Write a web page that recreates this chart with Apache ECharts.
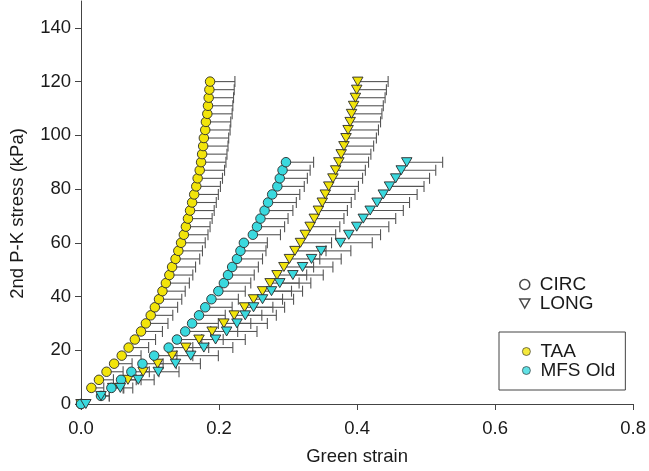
<!DOCTYPE html>
<html>
<head>
<meta charset="utf-8">
<script src="https://cdn.jsdelivr.net/npm/echarts@6/dist/echarts.min.js"></script>
<style>
html,body{margin:0;padding:0;background:#fff;}
#chart{width:649px;height:471px;}
</style>
</head>
<body>
<div id="chart"></div>
<script>
// Tick labels
const xTicks = [0, 0.2, 0.4, 0.6, 0.8];
const xTickLabels = ['0.0', '0.2', '0.4', '0.6', '0.8'];
const yTicks = [0, 20, 40, 60, 80, 100, 120, 140];

// TAA, circumferential (circles)
const taaCircStress = [0, 6, 9, 12, 15, 18, 21, 24, 27, 30, 33, 36, 39, 42, 45, 48, 51, 54, 57, 60, 63, 66, 69, 72, 75, 78, 81, 84, 87, 90, 93, 96, 99, 102, 105, 108, 111, 114, 117, 120];
const taaCircStrain = [0, 0.015, 0.026, 0.037, 0.048, 0.059, 0.069, 0.078, 0.087, 0.094, 0.101, 0.107, 0.113, 0.118, 0.123, 0.128, 0.132, 0.137, 0.141, 0.145, 0.149, 0.152, 0.155, 0.158, 0.161, 0.164, 0.167, 0.169, 0.172, 0.174, 0.1755, 0.177, 0.178, 0.180, 0.181, 0.183, 0.184, 0.185, 0.186, 0.187];
const taaCircErr = [0, 0.018, 0.021, 0.024, 0.026, 0.028, 0.029, 0.030, 0.031, 0.032, 0.032, 0.033, 0.033, 0.033, 0.034, 0.034, 0.034, 0.035, 0.035, 0.035, 0.035, 0.035, 0.035, 0.035, 0.035, 0.035, 0.035, 0.036, 0.036, 0.036, 0.036, 0.036, 0.036, 0.036, 0.036, 0.036, 0.036, 0.036, 0.036, 0.036];

// TAA, longitudinal (triangles)
const taaLongStress = [0, 6, 9, 12, 15, 18, 21, 24, 27, 30, 33, 36, 39, 42, 45, 48, 51, 54, 57, 60, 63, 66, 69, 72, 75, 78, 81, 84, 87, 90, 93, 96, 99, 102, 105, 108, 111, 114, 117, 120];
const taaLongStrain = [0, 0.046, 0.068, 0.090, 0.111, 0.132, 0.152, 0.171, 0.190, 0.207, 0.222, 0.237, 0.250, 0.263, 0.274, 0.284, 0.294, 0.302, 0.310, 0.318, 0.325, 0.332, 0.338, 0.344, 0.3496, 0.354, 0.359, 0.365, 0.369, 0.3736, 0.377, 0.381, 0.384, 0.387, 0.390, 0.392, 0.395, 0.3976, 0.3995, 0.401];
const taaLongErr = [0, 0.015, 0.019, 0.023, 0.027, 0.030, 0.033, 0.035, 0.037, 0.039, 0.040, 0.041, 0.042, 0.042, 0.042, 0.043, 0.043, 0.044, 0.045, 0.045, 0.044, 0.043, 0.043, 0.042, 0.042, 0.043, 0.043, 0.043, 0.043, 0.043, 0.043, 0.043, 0.044, 0.044, 0.044, 0.044, 0.043, 0.043, 0.043, 0.044];

// MFS Old, circumferential (circles)
const mfsCircStress = [0, 3, 6, 9, 12, 15, 18, 21, 24, 27, 30, 33, 36, 39, 42, 45, 48, 51, 54, 57, 60, 63, 66, 69, 72, 75, 78, 81, 84, 87, 90];
const mfsCircStrain = [0, 0.029, 0.044, 0.058, 0.073, 0.089, 0.106, 0.127, 0.139, 0.151, 0.161, 0.171, 0.180, 0.189, 0.199, 0.207, 0.213, 0.219, 0.226, 0.231, 0.236, 0.249, 0.255, 0.260, 0.266, 0.271, 0.277, 0.2845, 0.288, 0.292, 0.297];
const mfsCircErr = [0, 0.012, 0.018, 0.022, 0.026, 0.030, 0.033, 0.035, 0.036, 0.037, 0.038, 0.038, 0.039, 0.039, 0.039, 0.039, 0.038, 0.038, 0.037, 0.037, 0.034, 0.040, 0.040, 0.040, 0.041, 0.041, 0.040, 0.039, 0.040, 0.040, 0.040];

// MFS Old, longitudinal (triangles)
const mfsLongStress = [0, 3, 6, 9, 12, 15, 18, 21, 24, 27, 30, 33, 36, 39, 42, 45, 48, 51, 54, 57, 60, 63, 66, 69, 72, 75, 78, 81, 84, 87, 90];
const mfsLongStrain = [0.007, 0.029, 0.057, 0.083, 0.112, 0.137, 0.159, 0.178, 0.195, 0.211, 0.226, 0.238, 0.250, 0.263, 0.276, 0.288, 0.307, 0.321, 0.334, 0.348, 0.376, 0.388, 0.3995, 0.409, 0.419, 0.429, 0.438, 0.447, 0.456, 0.464, 0.472];
const mfsLongErr = [0, 0.012, 0.018, 0.023, 0.030, 0.036, 0.040, 0.042, 0.043, 0.044, 0.044, 0.045, 0.045, 0.045, 0.045, 0.045, 0.044, 0.044, 0.043, 0.043, 0.046, 0.046, 0.0465, 0.047, 0.048, 0.047, 0.049, 0.050, 0.049, 0.050, 0.052];

const YELLOW = '#f2e40a';
const CYAN = '#3ad9de';
const FONT = '"Liberation Sans", Arial, Helvetica, sans-serif';
const TRI = 'path://M0,0L10,0L5,9Z';

function pts(strain, stress) { return strain.map((s, i) => [s, stress[i]]); }
function errs(strain, stress, err) { return strain.map((s, i) => [s, stress[i], err[i]]); }

function errRender(params, api) {
  const x = api.value(0), y = api.value(1), e = api.value(2);
  if (!e) return null;
  const p0 = api.coord([x, y]);
  const p1 = api.coord([x + e, y]);
  const st = { stroke: '#555555', lineWidth: 1.1 };
  return {
    type: 'group',
    children: [
      { type: 'line', shape: { x1: p0[0], y1: p0[1], x2: p1[0], y2: p1[1] }, style: st },
      { type: 'line', shape: { x1: p1[0], y1: p1[1] - 5.5, x2: p1[0], y2: p1[1] + 5.5 }, style: st }
    ]
  };
}

function errSeries(name, strain, stress, err) {
  return {
    name: name, type: 'custom', renderItem: errRender, silent: true, z: 1,
    encode: { x: 0, y: 1 }, data: errs(strain, stress, err)
  };
}
function markSeries(name, strain, stress, color, tri) {
  return {
    name: name, type: 'scatter', z: 3,
    symbol: tri ? TRI : 'circle',
    symbolSize: tri ? [10.5, 9] : 9.5,
    itemStyle: { color: color, borderColor: '#2a2a2a', borderWidth: 0.9, opacity: 1 },
    data: pts(strain, stress)
  };
}

const chart = echarts.init(document.getElementById('chart'), null, { renderer: 'canvas' });
chart.setOption({
  animation: false,
  backgroundColor: '#ffffff',
  textStyle: { fontFamily: FONT },
  grid: { left: 79, right: 13, top: 1, bottom: 67, containLabel: false },
  xAxis: {
    type: 'value', min: 0, max: 0.8, interval: 0.2,
    name: 'Green strain', nameLocation: 'middle', nameGap: 43,
    nameTextStyle: { fontSize: 18.5, color: '#1a1a1a', fontFamily: FONT },
    axisLine: { show: true, onZero: false, lineStyle: { color: '#444', width: 1 } },
    axisTick: { show: true, length: 6, inside: false, customValues: xTicks, lineStyle: { color: '#444' } },
    axisLabel: {
      customValues: xTicks, margin: 15, fontSize: 18.5, color: '#1a1a1a', fontFamily: FONT,
      formatter: function (v) { const i = xTicks.findIndex(t => Math.abs(t - v) < 1e-9); return i >= 0 ? xTickLabels[i] : ''; }
    },
    splitLine: { show: false }
  },
  yAxis: {
    type: 'value', min: 0, max: 150,
    name: '2nd P-K stress (kPa)', nameLocation: 'middle', nameGap: 54,
    nameTextStyle: { fontSize: 18.5, color: '#1a1a1a', fontFamily: FONT, padding: [0, 22, 0, 0] },
    axisLine: { show: true, onZero: false, lineStyle: { color: '#444', width: 1 } },
    axisTick: { show: true, length: 6, inside: false, customValues: yTicks, lineStyle: { color: '#444' } },
    axisLabel: { customValues: yTicks, margin: 10, fontSize: 18.5, color: '#1a1a1a', fontFamily: FONT },
    splitLine: { show: false }
  },
  legend: [
    {
      orient: 'vertical', left: 519, top: 275, itemWidth: 10, itemHeight: 10, itemGap: 0,
      selectedMode: false, padding: 0,
      textStyle: { fontSize: 19, lineHeight: 18, color: '#1a1a1a', fontFamily: FONT, padding: [0, 0, 0, 5] },
      data: [
        { name: 'CIRC', icon: 'circle', itemStyle: { color: '#ffffff', borderColor: '#1a1a1a', borderWidth: 1.5 } },
        { name: 'LONG', icon: TRI, itemStyle: { color: '#ffffff', borderColor: '#1a1a1a', borderWidth: 1.5 } }
      ]
    },
    {
      orient: 'vertical', left: 499, top: 332, itemWidth: 8, itemHeight: 8, itemGap: 0,
      selectedMode: false, padding: [10, 10, 10, 23],
      borderColor: '#444', borderWidth: 1, backgroundColor: '#fff',
      textStyle: { fontSize: 19, lineHeight: 19, color: '#1a1a1a', fontFamily: FONT, padding: [0, 0, 0, 5] },
      data: [
        { name: 'TAA', icon: 'circle', itemStyle: { color: YELLOW, borderColor: '#2a2a2a', borderWidth: 0.8 } },
        { name: 'MFS Old', icon: 'circle', itemStyle: { color: CYAN, borderColor: '#2a2a2a', borderWidth: 0.8 } }
      ]
    }
  ],
  series: [
    errSeries('TAA CIRC err', taaCircStrain, taaCircStress, taaCircErr),
    errSeries('TAA LONG err', taaLongStrain, taaLongStress, taaLongErr),
    errSeries('MFS CIRC err', mfsCircStrain, mfsCircStress, mfsCircErr),
    errSeries('MFS LONG err', mfsLongStrain, mfsLongStress, mfsLongErr),
    markSeries('TAA CIRC', taaCircStrain, taaCircStress, YELLOW, false),
    markSeries('TAA LONG', taaLongStrain, taaLongStress, YELLOW, true),
    markSeries('MFS CIRC', mfsCircStrain, mfsCircStress, CYAN, false),
    markSeries('MFS LONG', mfsLongStrain, mfsLongStress, CYAN, true),
    { name: 'CIRC', type: 'scatter', data: [], symbol: 'circle' },
    { name: 'LONG', type: 'scatter', data: [], symbol: TRI },
    { name: 'TAA', type: 'scatter', data: [], symbol: 'circle', itemStyle: { color: YELLOW } },
    { name: 'MFS Old', type: 'scatter', data: [], symbol: 'circle', itemStyle: { color: CYAN } }
  ]
});
</script>
</body>
</html>
